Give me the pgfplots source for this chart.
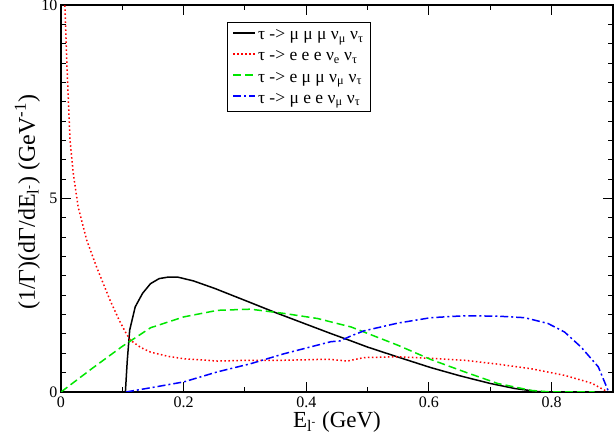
\documentclass[border=0pt]{standalone}
\usepackage{fontspec}
\setmainfont{Liberation Serif}
\usepackage{pgfplots}
\pgfplotsset{compat=1.18}
\definecolor{gblue}{RGB}{0,0,255}
\definecolor{gred}{RGB}{255,0,0}
\definecolor{ggreen}{RGB}{0,230,0}
\begin{document}
\begin{tikzpicture}
\begin{axis}[
  scale only axis, width=552pt, height=387pt,
  xmin=0, xmax=0.9, ymin=0, ymax=10,
  xtick={0,0.2,0.4,0.6,0.8}, minor xtick={0.1,0.3,0.5,0.7},
  ytick={0,5,10}, minor ytick={0.5,1,1.5,2,2.5,3,3.5,4,4.5,5.5,6,6.5,7,7.5,8,8.5,9,9.5},
  tick align=inside, major tick length=10pt, minor tick length=5pt,
  axis line style={line width=1.2pt},
  every tick/.style={black, line width=1pt},
  /pgf/number format/assume math mode=true,
  ticklabel style={font=\fontsize{16}{16}\selectfont},
  xticklabel style={yshift=-1pt},
  xlabel={E\textsubscript{l\textsuperscript{-}} (GeV)},
  ylabel={(1/Γ)(dΓ/dE\textsubscript{l\textsuperscript{-}}) (GeV\textsuperscript{-1})},
  xlabel style={at={(axis description cs:0.5,0)}, anchor=base, yshift=-36pt, font=\fontsize{23}{23}\selectfont},
  ylabel style={at={(axis description cs:0,0.49)}, anchor=base, yshift=26pt, font=\fontsize{24}{24}\selectfont},
  clip=true,
  legend style={at={(axis description cs:0.300,0.955)}, anchor=north west, draw=black, line width=1pt,
    fill=white, font=\fontsize{17.5}{18}\selectfont, row sep=5.5pt, inner xsep=5pt, inner ysep=5pt},
  legend cell align=left,
  legend image code/.code={\draw[#1, line width=2pt] (0pt,0.5ex) -- (22pt,0.5ex);},
]
\addplot[black, line width=1.5pt] coordinates {
(0.105,0) (0.108,0.8) (0.112,1.6) (0.121,2.2) (0.133,2.55) (0.146,2.8) (0.16,2.93) (0.175,2.97)
(0.19,2.97) (0.216,2.87) (0.25,2.68) (0.309,2.31) (0.35,2.05) (0.40,1.75) (0.44,1.51) (0.473,1.32)
(0.50,1.16) (0.549,0.905) (0.603,0.63) (0.65,0.42) (0.70,0.22) (0.74,0.09) (0.778,0.01) (0.79,0)
};
\addlegendentry{τ -> μ μ μ ν\textsubscript{μ} ν\textsubscript{τ}}
\addplot[gred, line width=1.5pt, dash pattern=on 1.5pt off 2.5pt] coordinates {
(0.0055,10.3) (0.0065,9.96) (0.0093,8.58) (0.012,7.54) (0.0147,6.51) (0.020,5.65) (0.028,4.78)
(0.042,3.92) (0.058,3.23) (0.080,2.37) (0.095,1.85) (0.105,1.55) (0.113,1.34) (0.13,1.15) (0.146,1.03)
(0.175,0.92) (0.2,0.86) (0.255,0.80) (0.309,0.82) (0.364,0.82) (0.418,0.84) (0.44,0.84) (0.467,0.80)
(0.494,0.89) (0.549,0.91) (0.603,0.87) (0.658,0.82) (0.712,0.72) (0.767,0.60) (0.821,0.43)
(0.865,0.23) (0.887,0.04) (0.89,0)
};
\addlegendentry{τ -> e e e ν\textsubscript{e} ν\textsubscript{τ}}
\addplot[ggreen, line width=1.5pt, dash pattern=on 8pt off 4pt] coordinates {
(0,0) (0.05,0.6) (0.1,1.18) (0.146,1.66) (0.2,1.94) (0.255,2.11) (0.309,2.14) (0.364,2.03)
(0.418,1.90) (0.473,1.68) (0.494,1.55) (0.549,1.21) (0.603,0.84) (0.658,0.52) (0.712,0.22)
(0.767,0.04) (0.80,0) (0.87,0)
};
\addlegendentry{τ -> e  μ μ ν\textsubscript{μ} ν\textsubscript{τ}}
\addplot[gblue, line width=1.5pt, dash pattern=on 8pt off 3pt on 2pt off 3pt] coordinates {
(0.106,0) (0.15,0.12) (0.2,0.26) (0.255,0.52) (0.309,0.73) (0.364,0.99) (0.418,1.21) (0.44,1.3)
(0.455,1.32) (0.473,1.45) (0.494,1.58) (0.549,1.78) (0.603,1.92) (0.658,1.97) (0.712,1.96)
(0.756,1.92) (0.794,1.77) (0.821,1.55) (0.848,1.16) (0.876,0.65) (0.892,0.04) (0.895,0)
};
\addlegendentry{τ -> μ e e  ν\textsubscript{μ} ν\textsubscript{τ}}
\end{axis}
\pgfresetboundingbox
\useasboundingbox (-61pt,-47pt) rectangle (553pt,392pt);
\end{tikzpicture}
\end{document}
